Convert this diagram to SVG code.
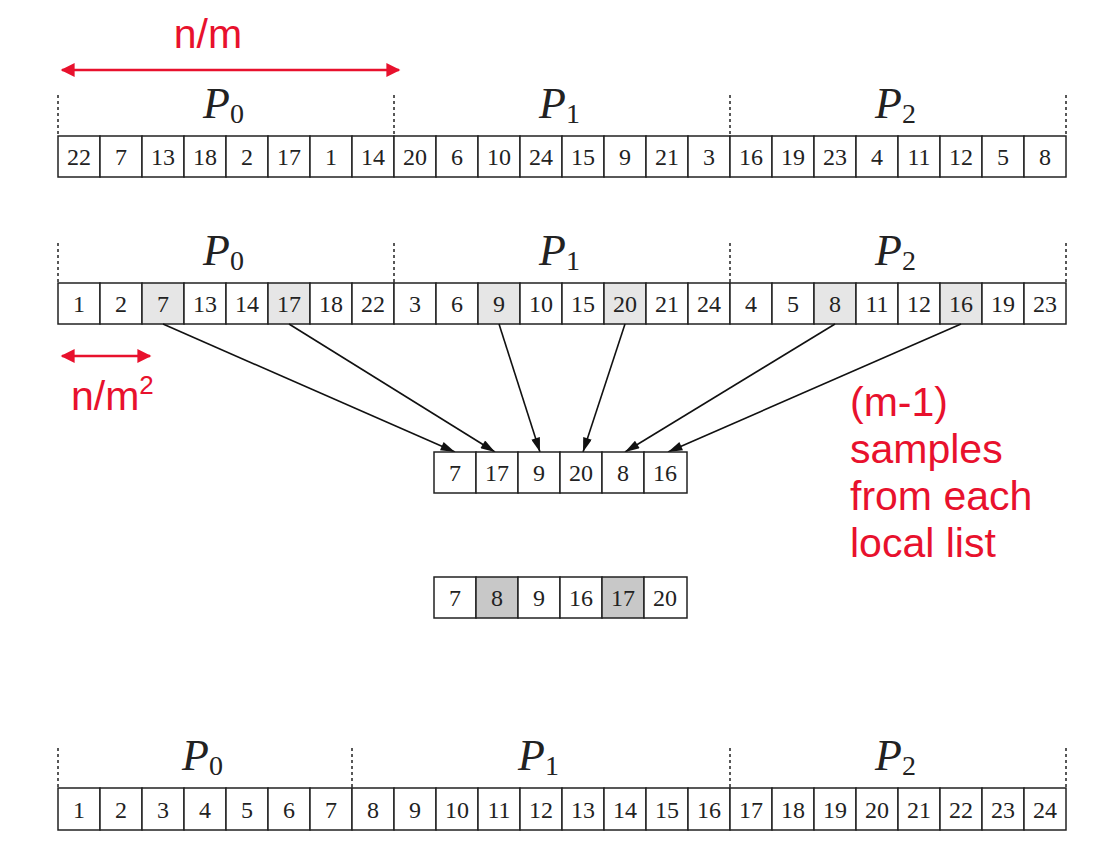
<svg xmlns="http://www.w3.org/2000/svg" width="1107" height="865" viewBox="0 0 1107 865">
<style>
.c{fill:#fff;stroke:#222;stroke-width:1.5}
.g{fill:#e6e6e6}
.d{fill:#c8c8c8}
.t{font-family:"Liberation Serif",serif;font-size:24px;text-anchor:middle;fill:#222}
.p{font-family:"Liberation Serif",serif;font-style:italic;font-size:44px;fill:#222}
.s{font-family:"Liberation Serif",serif;font-size:28px;font-style:normal;fill:#222}
.r{font-family:"Liberation Sans",Arial,sans-serif;font-size:41px;fill:#e8112d}
.dot{stroke:#222;stroke-width:1.5;stroke-dasharray:3 3}
.a{stroke:#111;stroke-width:1.6;fill:none}
.ra{stroke:#e8112d;stroke-width:2.5}
</style>
<defs>
<marker id="ah" viewBox="0 0 16 10" refX="16" refY="5" markerWidth="16" markerHeight="9" orient="auto" markerUnits="userSpaceOnUse"><path d="M0,0L16,5L0,10z" fill="#111"/></marker>
<marker id="rh" viewBox="0 0 10 10" refX="9" refY="5" markerWidth="15" markerHeight="14" orient="auto-start-reverse" markerUnits="userSpaceOnUse"><path d="M0,0L10,5L0,10z" fill="#e8112d"/></marker>
</defs>

<g id="annot-nm">
<line class="ra" x1="62" y1="70" x2="399" y2="70" marker-start="url(#rh)" marker-end="url(#rh)"/>
<text class="r" x="208" y="48" text-anchor="middle">n/m</text>
</g>

<g id="row1">
<line class="dot" x1="58" y1="95" x2="58" y2="136"/><line class="dot" x1="394" y1="95" x2="394" y2="136"/><line class="dot" x1="730" y1="95" x2="730" y2="136"/><line class="dot" x1="1066" y1="95" x2="1066" y2="136"/>
<text class="p" x="203" y="118">P<tspan class="s" dy="5">0</tspan></text>
<text class="p" x="539" y="118">P<tspan class="s" dy="5">1</tspan></text>
<text class="p" x="875" y="118">P<tspan class="s" dy="5">2</tspan></text>
<rect class="c" x="58" y="136" width="42" height="41"/><rect class="c" x="100" y="136" width="42" height="41"/><rect class="c" x="142" y="136" width="42" height="41"/><rect class="c" x="184" y="136" width="42" height="41"/><rect class="c" x="226" y="136" width="42" height="41"/><rect class="c" x="268" y="136" width="42" height="41"/><rect class="c" x="310" y="136" width="42" height="41"/><rect class="c" x="352" y="136" width="42" height="41"/><rect class="c" x="394" y="136" width="42" height="41"/><rect class="c" x="436" y="136" width="42" height="41"/><rect class="c" x="478" y="136" width="42" height="41"/><rect class="c" x="520" y="136" width="42" height="41"/><rect class="c" x="562" y="136" width="42" height="41"/><rect class="c" x="604" y="136" width="42" height="41"/><rect class="c" x="646" y="136" width="42" height="41"/><rect class="c" x="688" y="136" width="42" height="41"/><rect class="c" x="730" y="136" width="42" height="41"/><rect class="c" x="772" y="136" width="42" height="41"/><rect class="c" x="814" y="136" width="42" height="41"/><rect class="c" x="856" y="136" width="42" height="41"/><rect class="c" x="898" y="136" width="42" height="41"/><rect class="c" x="940" y="136" width="42" height="41"/><rect class="c" x="982" y="136" width="42" height="41"/><rect class="c" x="1024" y="136" width="42" height="41"/>
<text class="t" y="165"><tspan x="79">22</tspan><tspan x="121">7</tspan><tspan x="163">13</tspan><tspan x="205">18</tspan><tspan x="247">2</tspan><tspan x="289">17</tspan><tspan x="331">1</tspan><tspan x="373">14</tspan><tspan x="415">20</tspan><tspan x="457">6</tspan><tspan x="499">10</tspan><tspan x="541">24</tspan><tspan x="583">15</tspan><tspan x="625">9</tspan><tspan x="667">21</tspan><tspan x="709">3</tspan><tspan x="751">16</tspan><tspan x="793">19</tspan><tspan x="835">23</tspan><tspan x="877">4</tspan><tspan x="919">11</tspan><tspan x="961">12</tspan><tspan x="1003">5</tspan><tspan x="1045">8</tspan></text>
</g>

<g id="row2">
<line class="dot" x1="58" y1="243" x2="58" y2="283"/><line class="dot" x1="394" y1="243" x2="394" y2="283"/><line class="dot" x1="730" y1="243" x2="730" y2="283"/><line class="dot" x1="1066" y1="243" x2="1066" y2="283"/>
<text class="p" x="203" y="265">P<tspan class="s" dy="5">0</tspan></text>
<text class="p" x="539" y="265">P<tspan class="s" dy="5">1</tspan></text>
<text class="p" x="875" y="265">P<tspan class="s" dy="5">2</tspan></text>
<rect class="c" x="58" y="283" width="42" height="41"/><rect class="c" x="100" y="283" width="42" height="41"/><rect class="c g" x="142" y="283" width="42" height="41"/><rect class="c" x="184" y="283" width="42" height="41"/><rect class="c" x="226" y="283" width="42" height="41"/><rect class="c g" x="268" y="283" width="42" height="41"/><rect class="c" x="310" y="283" width="42" height="41"/><rect class="c" x="352" y="283" width="42" height="41"/><rect class="c" x="394" y="283" width="42" height="41"/><rect class="c" x="436" y="283" width="42" height="41"/><rect class="c g" x="478" y="283" width="42" height="41"/><rect class="c" x="520" y="283" width="42" height="41"/><rect class="c" x="562" y="283" width="42" height="41"/><rect class="c g" x="604" y="283" width="42" height="41"/><rect class="c" x="646" y="283" width="42" height="41"/><rect class="c" x="688" y="283" width="42" height="41"/><rect class="c" x="730" y="283" width="42" height="41"/><rect class="c" x="772" y="283" width="42" height="41"/><rect class="c g" x="814" y="283" width="42" height="41"/><rect class="c" x="856" y="283" width="42" height="41"/><rect class="c" x="898" y="283" width="42" height="41"/><rect class="c g" x="940" y="283" width="42" height="41"/><rect class="c" x="982" y="283" width="42" height="41"/><rect class="c" x="1024" y="283" width="42" height="41"/>
<text class="t" y="312"><tspan x="79">1</tspan><tspan x="121">2</tspan><tspan x="163">7</tspan><tspan x="205">13</tspan><tspan x="247">14</tspan><tspan x="289">17</tspan><tspan x="331">18</tspan><tspan x="373">22</tspan><tspan x="415">3</tspan><tspan x="457">6</tspan><tspan x="499">9</tspan><tspan x="541">10</tspan><tspan x="583">15</tspan><tspan x="625">20</tspan><tspan x="667">21</tspan><tspan x="709">24</tspan><tspan x="751">4</tspan><tspan x="793">5</tspan><tspan x="835">8</tspan><tspan x="877">11</tspan><tspan x="919">12</tspan><tspan x="961">16</tspan><tspan x="1003">19</tspan><tspan x="1045">23</tspan></text>
</g>

<g id="annot-nm2">
<line class="ra" x1="62" y1="356" x2="150" y2="356" marker-start="url(#rh)" marker-end="url(#rh)"/>
<text class="r" x="71" y="410">n/m<tspan font-size="26" dy="-16">2</tspan></text>
</g>

<g id="connectors">
<line class="a" x1="163" y1="324" x2="455" y2="452" marker-end="url(#ah)"/>
<line class="a" x1="289" y1="324" x2="495" y2="452" marker-end="url(#ah)"/>
<line class="a" x1="499" y1="324" x2="540" y2="452" marker-end="url(#ah)"/>
<line class="a" x1="625" y1="324" x2="583" y2="452" marker-end="url(#ah)"/>
<line class="a" x1="835" y1="324" x2="625" y2="452" marker-end="url(#ah)"/>
<line class="a" x1="961" y1="324" x2="668" y2="452" marker-end="url(#ah)"/>
</g>

<g id="samples">
<rect class="c" x="434" y="452" width="42" height="41"/><rect class="c" x="476" y="452" width="42" height="41"/><rect class="c" x="518" y="452" width="42" height="41"/><rect class="c" x="560" y="452" width="42" height="41"/><rect class="c" x="602" y="452" width="42" height="41"/><rect class="c" x="644" y="452" width="43" height="41"/>
<text class="t" y="481"><tspan x="455">7</tspan><tspan x="497">17</tspan><tspan x="539">9</tspan><tspan x="581">20</tspan><tspan x="623">8</tspan><tspan x="665">16</tspan></text>
</g>

<g id="annot-samples">
<text class="r"><tspan x="850" y="416">(m-1)</tspan><tspan x="850" y="463">samples</tspan><tspan x="850" y="510">from each</tspan><tspan x="850" y="557">local list</tspan></text>
</g>

<g id="sorted">
<rect class="c" x="434" y="577" width="42" height="41"/><rect class="c d" x="476" y="577" width="42" height="41"/><rect class="c" x="518" y="577" width="42" height="41"/><rect class="c" x="560" y="577" width="42" height="41"/><rect class="c d" x="602" y="577" width="42" height="41"/><rect class="c" x="644" y="577" width="43" height="41"/>
<text class="t" y="606"><tspan x="455">7</tspan><tspan x="497">8</tspan><tspan x="539">9</tspan><tspan x="581">16</tspan><tspan x="623">17</tspan><tspan x="665">20</tspan></text>
</g>

<g id="row5">
<line class="dot" x1="58" y1="748" x2="58" y2="788"/><line class="dot" x1="352" y1="748" x2="352" y2="788"/><line class="dot" x1="730" y1="748" x2="730" y2="788"/><line class="dot" x1="1066" y1="748" x2="1066" y2="788"/>
<text class="p" x="182" y="770">P<tspan class="s" dy="5">0</tspan></text>
<text class="p" x="518" y="770">P<tspan class="s" dy="5">1</tspan></text>
<text class="p" x="875" y="770">P<tspan class="s" dy="5">2</tspan></text>
<rect class="c" x="58" y="788" width="42" height="42"/><rect class="c" x="100" y="788" width="42" height="42"/><rect class="c" x="142" y="788" width="42" height="42"/><rect class="c" x="184" y="788" width="42" height="42"/><rect class="c" x="226" y="788" width="42" height="42"/><rect class="c" x="268" y="788" width="42" height="42"/><rect class="c" x="310" y="788" width="42" height="42"/><rect class="c" x="352" y="788" width="42" height="42"/><rect class="c" x="394" y="788" width="42" height="42"/><rect class="c" x="436" y="788" width="42" height="42"/><rect class="c" x="478" y="788" width="42" height="42"/><rect class="c" x="520" y="788" width="42" height="42"/><rect class="c" x="562" y="788" width="42" height="42"/><rect class="c" x="604" y="788" width="42" height="42"/><rect class="c" x="646" y="788" width="42" height="42"/><rect class="c" x="688" y="788" width="42" height="42"/><rect class="c" x="730" y="788" width="42" height="42"/><rect class="c" x="772" y="788" width="42" height="42"/><rect class="c" x="814" y="788" width="42" height="42"/><rect class="c" x="856" y="788" width="42" height="42"/><rect class="c" x="898" y="788" width="42" height="42"/><rect class="c" x="940" y="788" width="42" height="42"/><rect class="c" x="982" y="788" width="42" height="42"/><rect class="c" x="1024" y="788" width="42" height="42"/>
<text class="t" y="818"><tspan x="79">1</tspan><tspan x="121">2</tspan><tspan x="163">3</tspan><tspan x="205">4</tspan><tspan x="247">5</tspan><tspan x="289">6</tspan><tspan x="331">7</tspan><tspan x="373">8</tspan><tspan x="415">9</tspan><tspan x="457">10</tspan><tspan x="499">11</tspan><tspan x="541">12</tspan><tspan x="583">13</tspan><tspan x="625">14</tspan><tspan x="667">15</tspan><tspan x="709">16</tspan><tspan x="751">17</tspan><tspan x="793">18</tspan><tspan x="835">19</tspan><tspan x="877">20</tspan><tspan x="919">21</tspan><tspan x="961">22</tspan><tspan x="1003">23</tspan><tspan x="1045">24</tspan></text>
</g>
</svg>
